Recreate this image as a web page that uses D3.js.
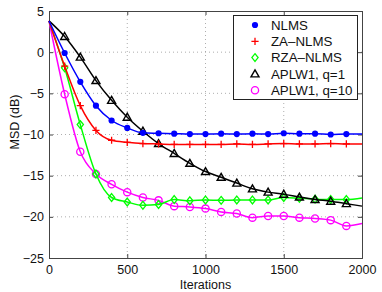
<!DOCTYPE html>
<html>
<head>
<meta charset="utf-8">
<script src="https://cdn.jsdelivr.net/npm/d3@7"></script>
<style>
  body { margin: 0; background: #fff; }
  text { font-family: "Liberation Sans", Arial, Helvetica, sans-serif; }
</style>
</head>
<body>
<div id="vis"></div>
<script>
// data
var iterations = [0, 100, 200, 300, 400, 500, 600, 700, 800, 900, 1000,
                  1100, 1200, 1300, 1400, 1500, 1600, 1700, 1800, 1900, 2000];
var nlms   = [3.8, -0.1, -3.6, -6.5, -8.3, -9.2, -9.8, -9.85, -9.9, -9.95, -9.95,
              -9.9, -9.95, -9.9, -9.95, -9.85, -9.9, -9.9, -10.0, -9.95, -9.95];
var zaNlms = [3.8, -1.7, -6.5, -9.5, -10.7, -10.95, -11.1, -11.15, -11.2, -11.2, -11.2,
              -11.2, -11.15, -11.2, -11.15, -11.1, -11.15, -11.15, -11.1, -11.15, -11.15];
var rzaNlms = [3.8, -1.9, -8.8, -14.8, -17.65, -18.2, -18.6, -18.5, -17.9, -18.05, -17.95,
               -18.0, -17.95, -17.95, -17.95, -17.65, -17.75, -17.85, -17.9, -17.9, -17.7];
var aplwQ1  = [3.8, 1.9, -0.6, -3.45, -5.85, -7.9, -9.6, -11.1, -12.3, -13.5, -14.5,
               -15.2, -15.9, -16.6, -17.0, -17.25, -17.6, -17.9, -18.1, -18.4, -18.7];
var aplwQ10 = [3.8, -5.1, -12.1, -14.8, -16.05, -17.0, -17.65, -18.0, -18.7, -18.8, -19.0,
               -19.4, -19.6, -20.1, -19.9, -19.9, -20.1, -20.2, -20.4, -21.1, -20.8];

var xTicks = [0, 500, 1000, 1500, 2000];
var yTicks = [5, 0, -5, -10, -15, -20, -25];

var series = [
  { name: 'NLMS',         values: nlms,    color: '#0000ff', marker: 'dot' },
  { name: 'ZA\u2013NLMS',  values: zaNlms,  color: '#ff0000', marker: 'plus' },
  { name: 'RZA\u2013NLMS', values: rzaNlms, color: '#00ff00', marker: 'diamond' },
  { name: 'APLW1, q=1',   values: aplwQ1,  color: '#000000', marker: 'triangle' },
  { name: 'APLW1, q=10',  values: aplwQ10, color: '#ff00ff', marker: 'circle' }
];

var width = 382, height = 292;
var margin = { top: 11, right: 20, bottom: 34, left: 49 };
var fontSize = 12.5;

var svg = d3.select('#vis').append('svg')
    .attr('width', width)
    .attr('height', height);

var x = d3.scaleLinear().domain([0, 2000]).range([margin.left, width - margin.right]);
var y = d3.scaleLinear().domain([-25, 5]).range([height - margin.bottom, margin.top]);

// grid
svg.append('g').selectAll('line')
    .data(xTicks.slice(1, -1))
    .enter().append('line')
    .attr('x1', function (d) { return x(d); })
    .attr('x2', function (d) { return x(d); })
    .attr('y1', y(5)).attr('y2', y(-25))
    .attr('stroke', '#999').attr('stroke-width', 0.8)
    .attr('stroke-dasharray', '1,3');

svg.append('g').selectAll('line')
    .data(yTicks.slice(1, -1))
    .enter().append('line')
    .attr('y1', function (d) { return y(d); })
    .attr('y2', function (d) { return y(d); })
    .attr('x1', x(0)).attr('x2', x(2000))
    .attr('stroke', '#999').attr('stroke-width', 0.8)
    .attr('stroke-dasharray', '1,3');

// axes (ticks inward, box all round)
var tick = 4;
svg.append('g')
    .attr('transform', 'translate(0,' + y(-25) + ')')
    .call(d3.axisBottom(x).tickValues(xTicks).tickSize(-tick).tickPadding(7).tickFormat(d3.format('')));
svg.append('g')
    .attr('transform', 'translate(0,' + y(5) + ')')
    .call(d3.axisTop(x).tickValues(xTicks).tickSize(-tick).tickFormat(''));
svg.append('g')
    .attr('transform', 'translate(' + x(0) + ',0)')
    .call(d3.axisLeft(y).tickValues(yTicks).tickSize(-tick).tickPadding(5).tickFormat(d3.format('')));
svg.append('g')
    .attr('transform', 'translate(' + x(2000) + ',0)')
    .call(d3.axisRight(y).tickValues(yTicks).tickSize(-tick).tickFormat(''));

svg.selectAll('.domain').attr('stroke', '#444').attr('stroke-width', 1);
svg.selectAll('.tick line').attr('stroke', '#444');
svg.selectAll('.tick text')
    .attr('font-size', fontSize)
    .attr('font-family', '"Liberation Sans", Arial, sans-serif')
    .attr('fill', '#111');

// curves
var line = d3.line()
    .x(function (d, i) { return x(iterations[i]); })
    .y(function (d) { return y(d); })
    .curve(d3.curveMonotoneX);

var drawOrder = [4, 2, 3, 1, 0];
drawOrder.forEach(function (k) {
  var s = series[k];
  svg.append('path')
      .attr('d', line(s.values))
      .attr('fill', 'none')
      .attr('stroke', s.color)
      .attr('stroke-width', 1.5);
  // markers every 100 iterations, not on the end points
  s.values.forEach(function (v, i) {
    if (i === 0 || i === s.values.length - 1) return;
    drawMarker(svg, s.marker, s.color, x(iterations[i]), y(v));
  });
});

function drawMarker(g, type, color, cx, cy) {
  if (type === 'dot') {
    g.append('circle').attr('cx', cx).attr('cy', cy).attr('r', 3.1).attr('fill', color);
  } else if (type === 'plus') {
    g.append('path')
        .attr('d', 'M' + (cx - 3.6) + ',' + cy + 'H' + (cx + 3.6) + 'M' + cx + ',' + (cy - 3.6) + 'V' + (cy + 3.6))
        .attr('stroke', color).attr('stroke-width', 1.3);
  } else if (type === 'diamond') {
    var r = 3.9;
    g.append('path')
        .attr('d', 'M' + cx + ',' + (cy - r) + 'L' + (cx + r * 0.8) + ',' + cy + 'L' + cx + ',' + (cy + r) + 'L' + (cx - r * 0.8) + ',' + cy + 'Z')
        .attr('fill', 'none').attr('stroke', color).attr('stroke-width', 1.3);
  } else if (type === 'triangle') {
    var t = 4;
    g.append('path')
        .attr('d', 'M' + cx + ',' + (cy - t) + 'L' + (cx + t) + ',' + (cy + t * 0.75) + 'L' + (cx - t) + ',' + (cy + t * 0.75) + 'Z')
        .attr('fill', 'none').attr('stroke', color).attr('stroke-width', 1.4);
  } else if (type === 'circle') {
    g.append('circle').attr('cx', cx).attr('cy', cy).attr('r', 3.6)
        .attr('fill', 'none').attr('stroke', color).attr('stroke-width', 1.3);
  }
}

// axis labels
svg.append('text')
    .attr('x', (x(0) + x(2000)) / 2)
    .attr('y', 288.5)
    .attr('text-anchor', 'middle')
    .attr('font-size', fontSize)
    .attr('fill', '#111')
    .text('Iterations');

svg.append('text')
    .attr('transform', 'translate(19,122) rotate(-90)')
    .attr('text-anchor', 'middle')
    .attr('font-size', 12.5)
    .attr('fill', '#111')
    .text('MSD (dB)');

// legend
var legend = svg.append('g');
legend.append('rect')
    .attr('x', 233.5).attr('y', 15.5)
    .attr('width', 124).attr('height', 84)
    .attr('fill', '#fff').attr('stroke', '#222').attr('stroke-width', 1);

series.forEach(function (s, i) {
  var ly = 25 + i * 16.3;
  drawMarker(legend, s.marker, s.color, 255, ly);
  legend.append('text')
      .attr('x', 271).attr('y', ly)
      .attr('dy', '0.36em')
      .attr('font-size', 13.3)
      .attr('fill', '#111')
      .text(s.name);
});
</script>
</body>
</html>
